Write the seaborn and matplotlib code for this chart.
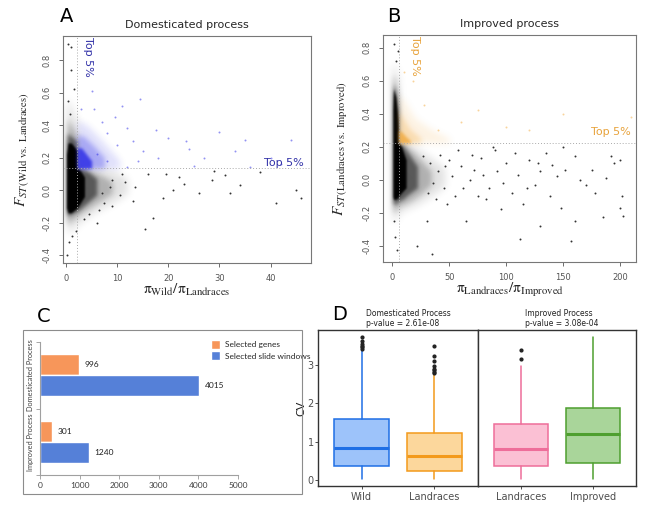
import matplotlib
matplotlib.use("Agg")
import matplotlib.pyplot as plt
import matplotlib.colors as mcolors
import numpy as np
import seaborn as sns
import pandas as pd
from matplotlib.patches import Rectangle

sns.set_theme(style="white")
plt.rcParams["font.family"] = ["DejaVu Sans"]
plt.rcParams["mathtext.fontset"] = "stix"

W, H = 647, 508

# ---------------- datos panel A (Wild vs Landraces) ----------------
a_vline, a_hline = 2.2, 0.133
# nubes de densidad (de afuera hacia adentro): x, limite inferior, limite superior
a_dens_x = [
    [0.0, 0.3, 1.0, 2.2, 2.2, 4.0, 6.0, 9.0, 12.0],
    [0.0, 0.3, 1.0, 2.2, 2.2, 3.5, 5.0, 7.0, 9.0],
    [0.05, 0.3, 1.0, 2.2, 2.2, 3.0, 4.5, 6.0],
    [0.1, 0.4, 1.0, 1.8, 2.2, 2.2, 2.8, 3.6],
]
a_dens_lo = [
    [-0.20, -0.27, -0.25, -0.21, -0.21, -0.17, -0.13, -0.08, -0.02],
    [-0.16, -0.21, -0.19, -0.16, -0.16, -0.13, -0.10, -0.06, -0.02],
    [-0.13, -0.16, -0.15, -0.13, -0.13, -0.11, -0.07, -0.03],
    [-0.11, -0.14, -0.14, -0.12, -0.11, -0.11, -0.08, -0.04],
]
a_dens_hi = [
    [0.46, 0.58, 0.52, 0.42, 0.133, 0.133, 0.133, 0.12, 0.07],
    [0.35, 0.44, 0.40, 0.34, 0.133, 0.133, 0.12, 0.09, 0.05],
    [0.28, 0.35, 0.33, 0.30, 0.133, 0.133, 0.11, 0.07],
    [0.22, 0.29, 0.29, 0.26, 0.24, 0.133, 0.12, 0.08],
]
# top 5% (azul): x, limite superior (el inferior es el umbral)
a_top_x = [[2.2, 4.0, 6.0, 8.0, 10.5], [2.2, 3.5, 5.5, 7.5], [2.2, 3.0, 4.0, 5.0]]
a_top_hi = [[0.43, 0.40, 0.34, 0.27, 0.18], [0.34, 0.33, 0.27, 0.20], [0.26, 0.26, 0.22, 0.18]]
a_points = [(0.4, 0.90), (1.0, 0.88), (0.9, 0.74), (1.5, 0.62), (0.3, 0.55), (0.8, 0.47),
            (5.0, 0.61), (11.0, 0.52), (14.4, 0.56), (13.0, 0.30), (17.5, 0.37), (20.0, 0.32),
            (24.0, 0.25), (30.0, 0.36), (35.0, 0.31), (44.0, 0.31), (33.0, 0.24), (27.0, 0.20),
            (25.0, 0.15), (18.0, 0.20), (14.0, 0.18), (12.0, 0.14), (16.0, 0.10), (22.0, 0.08),
            (28.5, 0.06), (34.0, 0.03), (38.0, 0.11), (45.0, 0.00), (41.0, -0.08), (46.0, -0.05),
            (26.0, -0.02), (32.0, -0.02), (21.0, 0.00), (19.0, -0.05), (13.0, -0.07), (9.0, -0.10),
            (6.0, -0.20), (15.5, -0.24), (17.0, -0.17), (2.0, -0.25), (0.2, -0.40), (0.5, -0.32),
            (10.0, 0.28), (8.0, 0.35), (7.0, 0.42), (9.5, 0.45), (5.5, 0.50), (3.0, 0.50),
            (12.0, 0.38), (23.5, 0.30), (29.0, 0.12), (36.0, 0.14), (40.0, 0.20), (11.5, 0.05),
            (6.5, -0.12), (7.5, -0.08), (8.5, 0.02), (10.5, -0.03), (15.0, 0.24), (19.5, 0.10),
            (23.0, 0.04), (31.0, 0.09), (42.0, 0.16), (3.5, -0.18), (4.5, -0.15), (1.2, -0.28),
            (6.0, 0.22), (8.0, 0.18), (11.0, 0.10), (13.5, 0.02), (7.0, -0.02), (9.0, 0.06)]

# ---------------- datos panel B (Landraces vs Improved) ----------------
b_vline, b_hline = 5.5, 0.222
b_dens_x = [
    [-0.5, 1.0, 3.0, 5.5, 5.5, 12.0, 22.0, 34.0, 46.0],
    [0.0, 1.0, 3.0, 5.5, 5.5, 10.0, 18.0, 26.0, 34.0],
    [0.2, 1.0, 3.0, 5.5, 5.5, 9.0, 14.0, 22.0],
    [0.4, 1.0, 3.0, 5.0, 5.5, 5.5, 8.0, 12.0],
]
b_dens_lo = [
    [-0.22, -0.26, -0.25, -0.20, -0.20, -0.18, -0.15, -0.10, -0.04],
    [-0.16, -0.20, -0.19, -0.16, -0.16, -0.15, -0.12, -0.08, -0.03],
    [-0.13, -0.15, -0.15, -0.13, -0.13, -0.12, -0.09, -0.05],
    [-0.10, -0.12, -0.12, -0.11, -0.10, -0.10, -0.08, -0.05],
]
b_dens_hi = [
    [0.66, 0.72, 0.68, 0.60, 0.222, 0.222, 0.19, 0.13, 0.07],
    [0.58, 0.64, 0.60, 0.50, 0.222, 0.222, 0.17, 0.11, 0.05],
    [0.50, 0.58, 0.54, 0.42, 0.222, 0.21, 0.16, 0.08],
    [0.42, 0.55, 0.50, 0.36, 0.25, 0.222, 0.20, 0.12],
]
b_top_x = [[5.5, 10.0, 20.0, 35.0, 50.0], [5.5, 9.0, 15.0, 25.0], [5.5, 8.0, 12.0, 16.0]]
b_top_hi = [[0.52, 0.48, 0.37, 0.30, 0.25], [0.42, 0.38, 0.31, 0.25], [0.30, 0.29, 0.26, 0.235]]
b_points = [(1, 0.82), (3, 0.72), (5, 0.78), (2, -0.35), (4, -0.43), (1, -0.25), (22, -0.40),
            (35, -0.45), (30, -0.25), (65, -0.25), (95, -0.18), (112, -0.36), (130, -0.28),
            (157, -0.37), (160, -0.25), (148, -0.17), (185, -0.23), (203, -0.22), (200, -0.17),
            (202, -0.10), (188, 0.01), (195, 0.10), (200, 0.12), (170, -0.03), (175, 0.06),
            (160, 0.14), (150, 0.20), (145, 0.02), (140, 0.09), (135, 0.16), (130, 0.05),
            (125, -0.03), (120, 0.12), (115, -0.15), (110, 0.03), (105, -0.08), (100, 0.10),
            (90, 0.18), (88, 0.20), (85, -0.05), (80, 0.03), (75, -0.10), (70, 0.15), (60, 0.08),
            (55, -0.10), (50, 0.12), (45, -0.05), (40, 0.05), (42, 0.15), (48, -0.15), (38, -0.12),
            (52, 0.02), (58, 0.18), (62, -0.05), (68, 0.00), (72, 0.06), (78, 0.13), (82, -0.12),
            (92, 0.05), (97, -0.02), (108, 0.16), (118, -0.05), (128, 0.10), (138, -0.10),
            (152, 0.06), (165, 0.00), (178, -0.08), (192, 0.14), (40, 0.30), (60, 0.35),
            (75, 0.42), (100, 0.32), (150, 0.40), (210, 0.38), (120, 0.30), (28, 0.45),
            (18, 0.60), (10, 0.65), (33, 0.10), (36, -0.02), (27, 0.14), (31, -0.08), (46, 0.08)]

# ---------------- datos panel C ----------------
procesos = ["Domesticated Process", "Improved Process"]
tipos = ["Selected genes", "Selected slide windows"]
genes_sel = [996, 301]
ventanas_sel = [4015, 1240]

# ---------------- datos panel D (estadisticos de cajas) ----------------
d_dom_labels = ["Wild", "Landraces"]
d_imp_labels = ["Landraces", "Improved"]
d_whislo = [0.02, 0.02, 0.02, 0.02]
d_q1 = [0.37, 0.22, 0.37, 0.44]
d_med = [0.83, 0.63, 0.80, 1.20]
d_q3 = [1.58, 1.22, 1.45, 1.87]
d_whishi = [3.37, 2.74, 2.96, 3.72]
d_fliers = [[3.42, 3.46, 3.50, 3.55, 3.62, 3.74],
            [2.78, 2.82, 2.86, 2.90, 2.96, 3.09, 3.22, 3.50],
            [3.15, 3.38],
            []]
d_edge = ["#1F6FE5", "#F39A1B", "#EE6E9A", "#4E9F2F"]
d_fill = ["#9DC3FA", "#FCD79C", "#FBC0D4", "#A9D59A"]

fig = plt.figure(figsize=(W / 100, H / 100), dpi=100)


def px_axes(left, top, right, bottom):
    return fig.add_axes([left / W, 1 - bottom / H, (right - left) / W, (bottom - top) / H])


def make_blur(color, r=2.5):
    """Filtro agg: difumina solo el canal alfa para suavizar los bordes de la nube."""
    rgb = np.array(mcolors.to_rgb(color))
    pad = max(int(3 * r), 1)
    k = np.exp(-0.5 * (np.arange(-pad, pad + 1) / r) ** 2)
    k /= k.sum()

    def _f(img, dpi):
        a = np.pad(img[:, :, 3], pad)
        a = np.apply_along_axis(lambda m: np.convolve(m, k, mode="same"), 0, a)
        a = np.apply_along_axis(lambda m: np.convolve(m, k, mode="same"), 1, a)
        out = np.empty(a.shape + (4,))
        out[:, :, :3] = rgb
        out[:, :, 3] = a
        return out, -pad, -pad
    return _f


def scatter_panel(ax, dens, top, pts, vline, hline, top_color, xlim, ylim):
    gris = "#555555"
    for (xs, lo, hi), al, r in zip(zip(*dens), [0.12, 0.22, 0.5, 1.0], [3.0, 2.0, 1.4, 0.7]):
        pc = ax.fill_between(xs, lo, hi, color="black", alpha=al, lw=0)
        pc.set_agg_filter(make_blur("black", r))
    for (xs, hi), al, r in zip(zip(*top), [0.15, 0.3, 0.8], [2.5, 1.8, 1.0]):
        pc = ax.fill_between(xs, hline, hi, color=top_color, alpha=al, lw=0)
        pc.set_agg_filter(make_blur(top_color, r))
    df = pd.DataFrame(pts, columns=["x", "y"])
    df["top"] = (df["x"] > vline) & (df["y"] > hline)
    sns.scatterplot(data=df[~df["top"]], x="x", y="y", s=2, color="#333333", linewidth=0, ax=ax)
    sns.scatterplot(data=df[df["top"]], x="x", y="y", s=2, color=top_color, alpha=0.5,
                    linewidth=0, ax=ax)
    ax.axvline(vline, color="#AAAAAA", ls=(0, (1, 2)), lw=0.7)
    ax.axhline(hline, color="#AAAAAA", ls=(0, (1, 2)), lw=0.7)
    ax.set_xlim(*xlim)
    ax.set_ylim(*ylim)
    ax.set_yticks([-0.4, -0.2, 0.0, 0.2, 0.4, 0.6, 0.8])
    ax.set_yticklabels([f"{v:.1f}" for v in ax.get_yticks()], rotation=90, va="center")
    ax.tick_params(direction="out", length=3, width=0.6, labelsize=6, colors=gris,
                   left=True, bottom=True)
    ax.tick_params(axis="x", pad=5)
    ax.tick_params(axis="y", pad=5)
    for s in ax.spines.values():
        s.set_color("#777777")
        s.set_linewidth(0.8)
    ax.set_xlabel("")
    ax.set_ylabel("")


# ---------- A ----------
axA = px_axes(63, 36, 311, 263)
scatter_panel(axA, (a_dens_x, a_dens_lo, a_dens_hi), (a_top_x, a_top_hi), a_points,
              a_vline, a_hline, "#2626E6", (-0.6, 47.9), (-0.449, 0.948))
axA.set_xticks([0, 10, 20, 30, 40])
axA.set_title("Domesticated process", fontsize=8, pad=6)
axA.set_ylabel(r"$F_{ST\,\mathrm{(Wild\ vs.\ Landraces)}}$", fontsize=11)
axA.yaxis.set_label_coords(-0.13, 0.5)
axA.set_xlabel(r"$\mathrm{\pi}_{\mathrm{Wild}}/\mathrm{\pi}_{\mathrm{Landraces}}$", fontsize=11)
axA.xaxis.set_label_coords(0.5, -0.082)
axA.text(4.3, 0.94, "Top 5%", rotation=270, color="#3232A8", fontsize=8, va="top", ha="center")
axA.text(46.5, 0.166, "Top 5%", color="#3232A8", fontsize=8, va="center", ha="right")

# ---------- B ----------
axB = px_axes(383, 35, 636, 262)
scatter_panel(axB, (b_dens_x, b_dens_lo, b_dens_hi), (b_top_x, b_top_hi), b_points,
              b_vline, b_hline, "#F2A93B", (-8.3, 214), (-0.50, 0.877))
axB.set_xticks([0, 50, 100, 150, 200])
axB.set_title("Improved process", fontsize=8, pad=6)
axB.set_ylabel(r"$F_{ST\,\mathrm{(Landraces\ vs.\ Improved)}}$", fontsize=11)
axB.yaxis.set_label_coords(-0.13, 0.5)
axB.set_xlabel(r"$\mathrm{\pi}_{\mathrm{Landraces}}/\mathrm{\pi}_{\mathrm{Improved}}$", fontsize=11)
axB.xaxis.set_label_coords(0.5, -0.082)
axB.text(19.6, 0.87, "Top 5%", rotation=270, color="#E8A33C", fontsize=8, va="top", ha="center")
axB.text(209, 0.289, "Top 5%", color="#E8A33C", fontsize=8, va="center", ha="right")

# ---------- C ----------
df_c = pd.DataFrame({
    "proceso": procesos * 2,
    "tipo": [tipos[0]] * 2 + [tipos[1]] * 2,
    "n": genes_sel + ventanas_sel,
})
fuente_c = ["Lato", "DejaVu Sans"]
fig.patches.append(Rectangle((23 / W, 1 - 494 / H), (302 - 23) / W, (494 - 330) / H,
                             transform=fig.transFigure, fill=False, ec="#8C8C8C", lw=0.8))
axC = px_axes(40, 342, 238, 475)
sns.barplot(data=df_c, y="proceso", x="n", hue="tipo", orient="h", width=0.63,
            palette=["#F7965A", "#5580D8"], saturation=1, ax=axC, legend=True)
axC.set_xlim(0, 5000)
axC.set_ylim(1.5, -0.5)
axC.set_xticks([0, 1000, 2000, 3000, 4000, 5000])
axC.set_xticklabels(["0", "1000", "2000", "3000", "4000", "5000"], family=fuente_c)
axC.set_yticks([0, 1])
axC.set_yticklabels(procesos, rotation=90, va="center", fontsize=5.3, family=fuente_c)
axC.set_yticks([-0.5, 0.5, 1.5], minor=True)
axC.tick_params(axis="y", which="major", length=0, pad=4, colors="#404040")
axC.tick_params(axis="y", which="minor", left=True, length=3, width=0.6, color="#999999")
axC.tick_params(axis="x", bottom=True, length=3, width=0.6, color="#999999",
                labelsize=6, labelcolor="#404040", pad=2)
for cont in axC.containers:
    axC.bar_label(cont, padding=4, fontsize=6, color="#202020", family=fuente_c)
axC.set_xlabel("")
axC.set_ylabel("")
for side in ["top", "right"]:
    axC.spines[side].set_visible(False)
for side in ["left", "bottom"]:
    axC.spines[side].set_color("#A0A0A0")
    axC.spines[side].set_linewidth(0.8)
axC.legend(loc="upper left", bbox_to_anchor=(207 / W, 1 - 336 / H),
           bbox_transform=fig.transFigure, frameon=False,
           prop={"family": fuente_c, "size": 6},
           handlelength=1.1, handleheight=1.3, handletextpad=0.6, labelspacing=0.25,
           borderpad=0)

# ---------- D ----------
axD1 = px_axes(318, 330, 478, 486)
axD2 = px_axes(478, 330, 636, 486)
for k, (ax, labels) in enumerate([(axD1, d_dom_labels), (axD2, d_imp_labels)]):
    idx = [2 * k, 2 * k + 1]
    stats = [dict(whislo=d_whislo[i], q1=d_q1[i], med=d_med[i], q3=d_q3[i],
                  whishi=d_whishi[i], fliers=d_fliers[i], label=labels[j])
             for j, i in enumerate(idx)]
    res = ax.bxp(stats, positions=[1, 2], widths=0.75, patch_artist=True, showcaps=False,
                 flierprops=dict(marker="o", markersize=2, markerfacecolor="#222222",
                                 markeredgecolor="#222222"))
    for j, i in enumerate(idx):
        res["boxes"][j].set_facecolor(d_fill[i])
        res["boxes"][j].set_edgecolor(d_edge[i])
        res["boxes"][j].set_linewidth(1.1)
        res["medians"][j].set_color(d_edge[i])
        res["medians"][j].set_linewidth(2.2)
        for w in res["whiskers"][2 * j:2 * j + 2]:
            w.set_color(d_edge[i])
            w.set_linewidth(1.1)
    ax.set_xlim(0.4, 2.6)
    ax.set_ylim(-0.16, 3.91)
    ax.set_xticks([1, 2])
    ax.set_xticklabels(labels)
    ax.tick_params(axis="x", bottom=True, length=2, width=0.6, color="#333333",
                   labelsize=7, labelcolor="#4D4D4D", pad=2)
    for s in ax.spines.values():
        s.set_color("#333333")
        s.set_linewidth(1.0)
axD1.set_yticks([0, 1, 2, 3])
axD1.tick_params(axis="y", left=True, length=2, width=0.6, color="#333333",
                 labelsize=7, labelcolor="#4D4D4D", pad=1)
axD1.set_ylabel("CV", fontsize=8, color="#222222", labelpad=1)
axD2.set_yticks([])
fig.text(366 / W, 1 - 314 / H, "Domesticated Process", fontsize=5.5, va="center", color="#222222")
fig.text(366 / W, 1 - 323 / H, "p-value = 2.61e-08", fontsize=5.5, va="center", color="#222222")
fig.text(525 / W, 1 - 314 / H, "Improved Process", fontsize=5.5, va="center", color="#222222")
fig.text(525 / W, 1 - 323 / H, "p-value = 3.08e-04", fontsize=5.5, va="center", color="#222222")

# ---------- letras de panel ----------
for letra, x, y in [("A", 60, 16), ("B", 387, 16), ("C", 37, 316), ("D", 332, 315)]:
    fig.text(x / W, 1 - y / H, letra, fontsize=14, va="center", ha="left", color="black")

fig.savefig("out.png", dpi=100)
plt.close(fig)
